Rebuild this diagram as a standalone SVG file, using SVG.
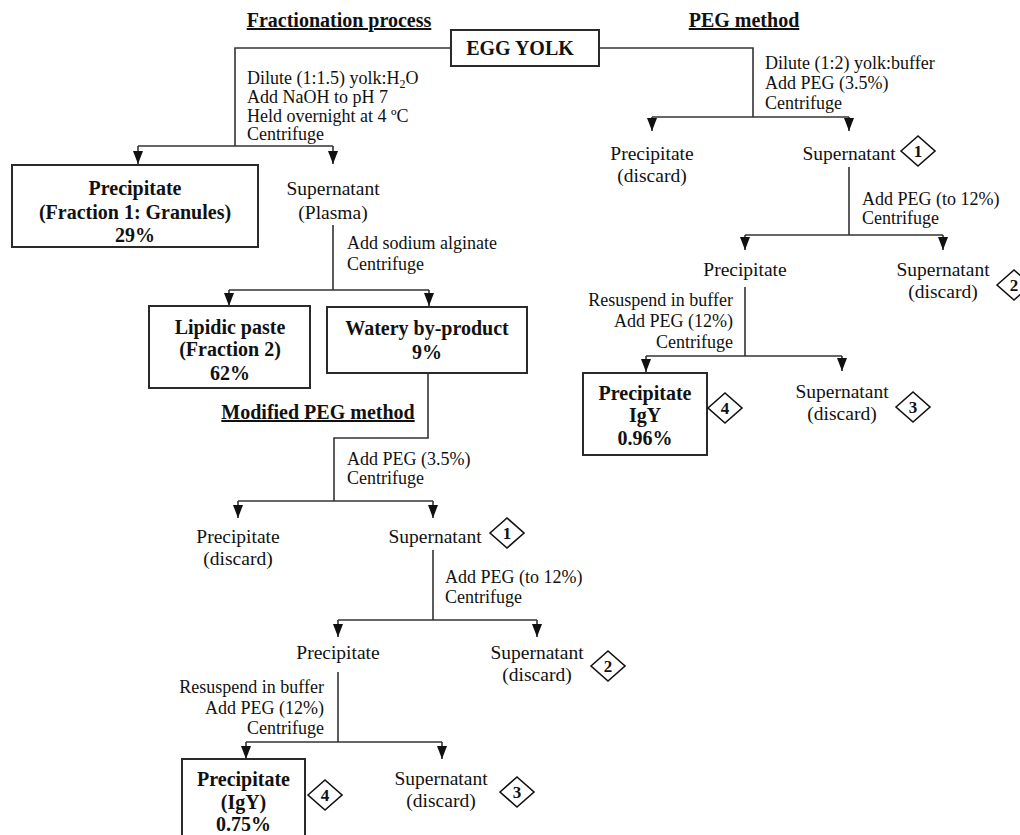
<svg xmlns="http://www.w3.org/2000/svg" width="1020" height="835" viewBox="0 0 1020 835">
  <style>
    text { font-family: "Liberation Serif", "Times New Roman", serif; fill: #111; }
    .t { font-size: 19.5px; text-anchor: middle; }
    .s { font-size: 18px; }
    .sr { font-size: 18px; text-anchor: end; }
    .b { font-size: 20px; font-weight: bold; text-anchor: middle; }
    .h { font-size: 20px; font-weight: bold; text-anchor: middle; text-decoration: underline; }
    .d { font-size: 17px; font-weight: bold; text-anchor: middle; }
    .box { fill: #fff; stroke: #2a2a2a; stroke-width: 2; }
    .dia { fill: #fff; stroke: #111; stroke-width: 1.6; }
    .ln { fill: none; stroke: #333; stroke-width: 1.6; }
    .ar { fill: none; stroke: #333; stroke-width: 1.6; marker-end: url(#head); }
  </style>
  <defs>
    <marker id="head" viewBox="0 0 13 10" refX="13" refY="5" markerWidth="13" markerHeight="10" markerUnits="userSpaceOnUse" orient="auto">
      <path d="M0,0 L13,5 L0,10 z" fill="#111"/>
    </marker>
    <polygon id="diamond" class="dia" points="-17,0 0,-15 17,0 0,15"/>
  </defs>

  <rect width="1020" height="835" fill="#fff"/>

  <!-- section headings -->
  <g id="headings">
    <text class="h" x="339" y="27">Fractionation process</text>
    <text class="h" x="744" y="27">PEG method</text>
    <text class="h" x="318" y="419">Modified PEG method</text>
  </g>

  <!-- connectors -->
  <g id="connectors">
    <!-- fractionation -->
    <polyline class="ln" points="451,48 235,48 235,146"/>
    <line class="ln" x1="138" y1="146" x2="333" y2="146"/>
    <line class="ar" x1="138" y1="146" x2="138" y2="164"/>
    <line class="ar" x1="333" y1="146" x2="333" y2="164"/>
    <line class="ln" x1="333" y1="225" x2="333" y2="290"/>
    <line class="ln" x1="229" y1="290" x2="429" y2="290"/>
    <line class="ar" x1="229" y1="290" x2="229" y2="306"/>
    <line class="ar" x1="429" y1="290" x2="429" y2="306"/>
    <!-- modified PEG method -->
    <polyline class="ln" points="428,373 428,438 334,438 334,501"/>
    <line class="ln" x1="238" y1="501" x2="433" y2="501"/>
    <line class="ar" x1="238" y1="501" x2="238" y2="518"/>
    <line class="ar" x1="433" y1="501" x2="433" y2="518"/>
    <line class="ln" x1="433" y1="550" x2="433" y2="620"/>
    <line class="ln" x1="338" y1="620" x2="537" y2="620"/>
    <line class="ar" x1="338" y1="620" x2="338" y2="637"/>
    <line class="ar" x1="537" y1="620" x2="537" y2="637"/>
    <line class="ln" x1="338" y1="672" x2="338" y2="742"/>
    <line class="ln" x1="246" y1="742" x2="442" y2="742"/>
    <line class="ar" x1="246" y1="742" x2="246" y2="759"/>
    <line class="ar" x1="442" y1="742" x2="442" y2="759"/>
    <!-- PEG method -->
    <polyline class="ln" points="599,48 753,48 753,117"/>
    <line class="ln" x1="652" y1="117" x2="849" y2="117"/>
    <line class="ar" x1="652" y1="117" x2="652" y2="131"/>
    <line class="ar" x1="849" y1="117" x2="849" y2="131"/>
    <line class="ln" x1="849" y1="167" x2="849" y2="235"/>
    <line class="ln" x1="745" y1="235" x2="943" y2="235"/>
    <line class="ar" x1="745" y1="235" x2="745" y2="250"/>
    <line class="ar" x1="943" y1="235" x2="943" y2="250"/>
    <line class="ln" x1="745" y1="287" x2="745" y2="356"/>
    <line class="ln" x1="646" y1="356" x2="842" y2="356"/>
    <line class="ar" x1="646" y1="356" x2="646" y2="372"/>
    <line class="ar" x1="842" y1="356" x2="842" y2="371"/>
  </g>

  <!-- step labels -->
  <g id="steps">
    <text class="s" x="247" y="84">Dilute (1:1.5) yolk:H<tspan font-size="12" dy="4">2</tspan><tspan dy="-4">O</tspan></text>
    <text class="s" x="247" y="103">Add NaOH to pH 7</text>
    <text class="s" x="247" y="122">Held overnight at 4 ºC</text>
    <text class="s" x="247" y="140">Centrifuge</text>
    <text class="s" x="347" y="249">Add sodium alginate</text>
    <text class="s" x="347" y="270">Centrifuge</text>
    <text class="s" x="347" y="465">Add PEG (3.5%)</text>
    <text class="s" x="347" y="484">Centrifuge</text>
    <text class="s" x="445" y="583">Add PEG (to 12%)</text>
    <text class="s" x="445" y="603">Centrifuge</text>
    <text class="sr" x="324" y="693">Resuspend in buffer</text>
    <text class="sr" x="324" y="714">Add PEG (12%)</text>
    <text class="sr" x="324" y="734">Centrifuge</text>
    <text class="s" x="765" y="69">Dilute (1:2) yolk:buffer</text>
    <text class="s" x="765" y="89">Add PEG (3.5%)</text>
    <text class="s" x="765" y="109">Centrifuge</text>
    <text class="s" x="862" y="205">Add PEG (to 12%)</text>
    <text class="s" x="862" y="224">Centrifuge</text>
    <text class="sr" x="733" y="306">Resuspend in buffer</text>
    <text class="sr" x="733" y="327">Add PEG (12%)</text>
    <text class="sr" x="733" y="348">Centrifuge</text>
  </g>

  <!-- nodes -->
  <g id="egg-yolk">
    <rect class="box" x="451" y="30" width="148" height="36"/>
    <text class="b" x="520" y="55">EGG YOLK</text>
  </g>

  <g id="granules">
    <rect class="box" x="12" y="165" width="246" height="82"/>
    <text class="b" x="135" y="195">Precipitate</text>
    <text class="b" x="135" y="219">(Fraction 1: Granules)</text>
    <text class="b" x="135" y="242">29%</text>
  </g>
  <g id="plasma">
    <text class="t" x="333" y="195">Supernatant</text>
    <text class="t" x="333" y="219">(Plasma)</text>
  </g>
  <g id="lipidic-paste">
    <rect class="box" x="149" y="306" width="161" height="82"/>
    <text class="b" x="230" y="334">Lipidic paste</text>
    <text class="b" x="230" y="356">(Fraction 2)</text>
    <text class="b" x="230" y="380">62%</text>
  </g>
  <g id="watery-by-product">
    <rect class="box" x="327" y="307" width="200" height="66"/>
    <text class="b" x="427" y="335">Watery by-product</text>
    <text class="b" x="427" y="359">9%</text>
  </g>

  <!-- modified PEG method nodes -->
  <g id="m-precipitate-1">
    <text class="t" x="238" y="543">Precipitate</text>
    <text class="t" x="238" y="565">(discard)</text>
  </g>
  <g id="m-supernatant-1">
    <text class="t" x="435" y="543">Supernatant</text>
    <use href="#diamond" x="507" y="533"/>
    <text class="d" x="507" y="539">1</text>
  </g>
  <g id="m-precipitate-2">
    <text class="t" x="338" y="659">Precipitate</text>
  </g>
  <g id="m-supernatant-2">
    <text class="t" x="537" y="659">Supernatant</text>
    <text class="t" x="537" y="681">(discard)</text>
    <use href="#diamond" x="608" y="666"/>
    <text class="d" x="608" y="672">2</text>
  </g>
  <g id="m-igy">
    <rect class="box" x="182" y="759" width="123" height="90"/>
    <text class="b" x="243.5" y="786">Precipitate</text>
    <text class="b" x="243.5" y="809">(IgY)</text>
    <text class="b" x="243.5" y="831">0.75%</text>
    <use href="#diamond" x="325" y="795"/>
    <text class="d" x="325" y="801">4</text>
  </g>
  <g id="m-supernatant-3">
    <text class="t" x="441" y="785">Supernatant</text>
    <text class="t" x="441" y="807">(discard)</text>
    <use href="#diamond" x="517" y="792"/>
    <text class="d" x="517" y="798">3</text>
  </g>

  <!-- PEG method nodes -->
  <g id="p-precipitate-1">
    <text class="t" x="652" y="160">Precipitate</text>
    <text class="t" x="652" y="182">(discard)</text>
  </g>
  <g id="p-supernatant-1">
    <text class="t" x="849" y="160">Supernatant</text>
    <use href="#diamond" x="918" y="151"/>
    <text class="d" x="918" y="157">1</text>
  </g>
  <g id="p-precipitate-2">
    <text class="t" x="745" y="276">Precipitate</text>
  </g>
  <g id="p-supernatant-2">
    <text class="t" x="943" y="276">Supernatant</text>
    <text class="t" x="943" y="298">(discard)</text>
    <use href="#diamond" x="1014" y="285"/>
    <text class="d" x="1014" y="291">2</text>
  </g>
  <g id="p-igy">
    <rect class="box" x="583" y="373" width="124" height="82"/>
    <text class="b" x="645" y="400">Precipitate</text>
    <text class="b" x="645" y="422">IgY</text>
    <text class="b" x="645" y="445">0.96%</text>
    <use href="#diamond" x="725" y="408"/>
    <text class="d" x="725" y="414">4</text>
  </g>
  <g id="p-supernatant-3">
    <text class="t" x="842" y="398">Supernatant</text>
    <text class="t" x="842" y="420">(discard)</text>
    <use href="#diamond" x="913" y="407"/>
    <text class="d" x="913" y="413">3</text>
  </g>
</svg>
